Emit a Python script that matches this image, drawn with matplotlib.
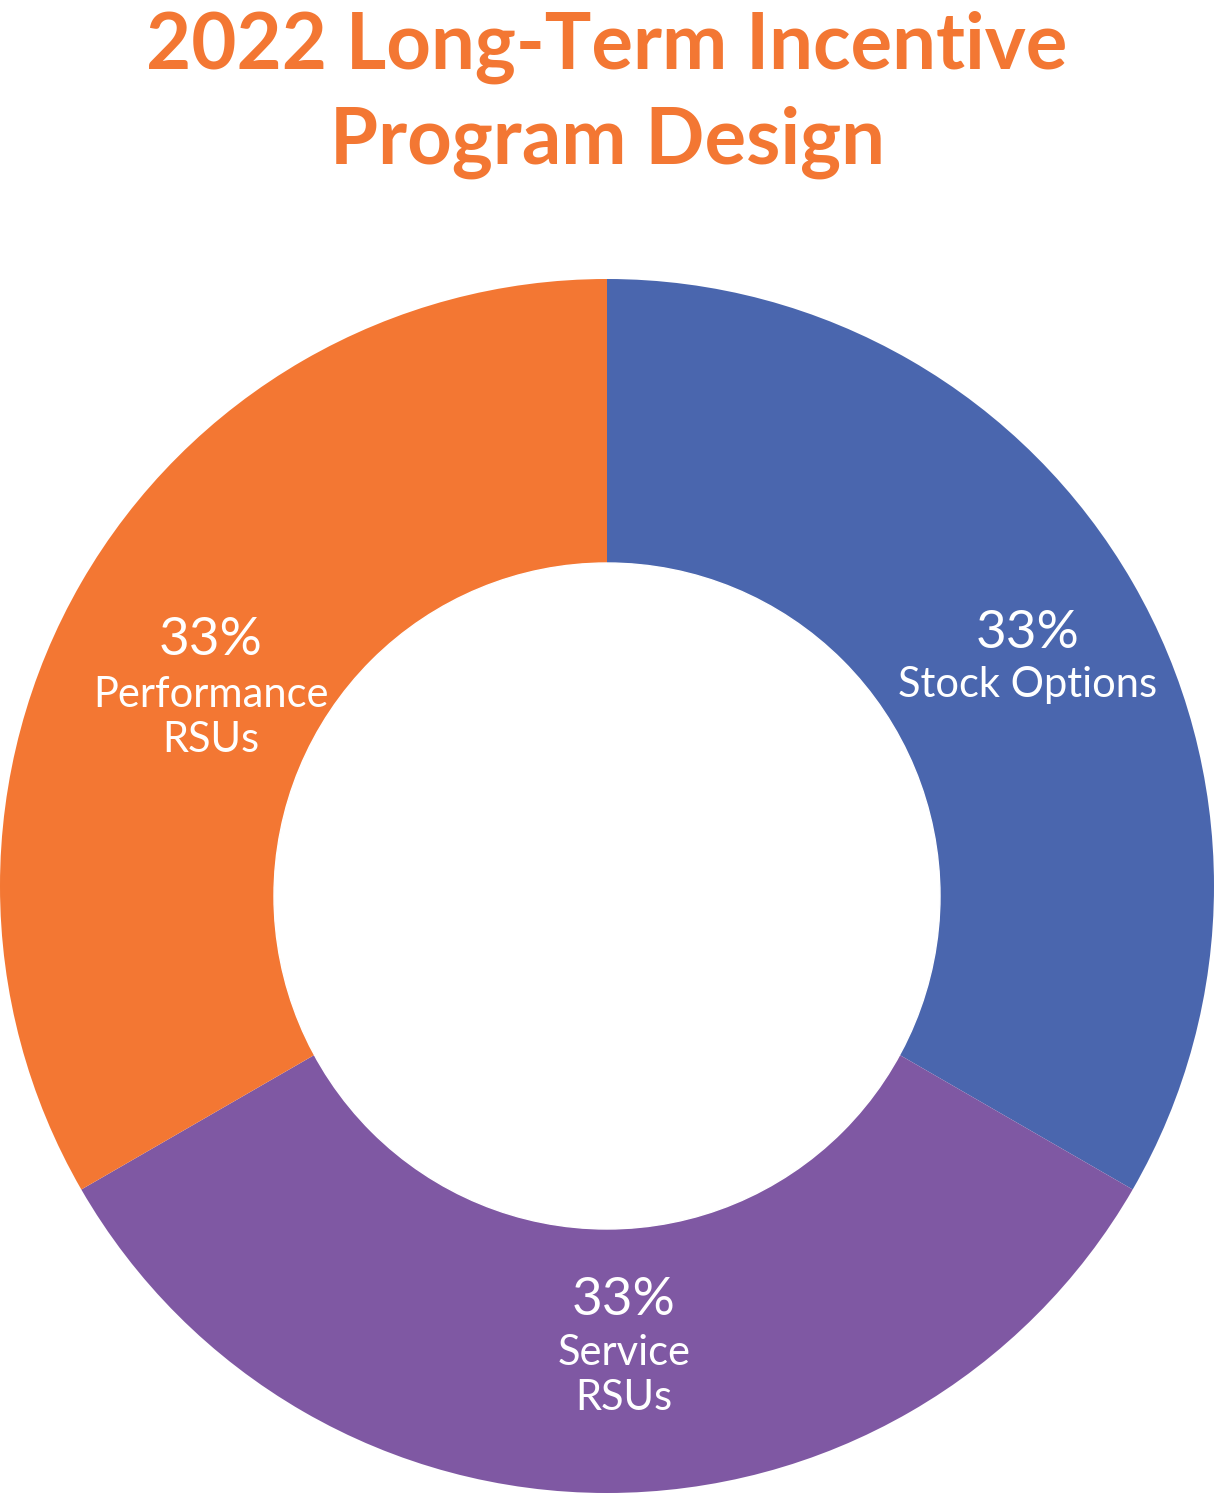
import matplotlib
matplotlib.use('Agg')
import matplotlib.pyplot as plt
from matplotlib.patches import Circle

# данні
categories = ['Stock Options', 'Service\nRSUs', 'Performance\nRSUs']
shares = [33, 33, 33]
colors = ['#4A66AE', '#7F58A3', '#F37733']
title_lines = ['2022 Long-Term Incentive', 'Program Design']

W, H = 1214, 1494
cx, cy, R = 607, 886, 607  # центр і радіус у пікселях


def to_data(px, py):
    return (px - cx) / R, (cy - py) / R


fig = plt.figure(figsize=(W / 100, H / 100), dpi=100)
ax = fig.add_axes([0, (H - cy - R) / H, 1, 2 * R / H])

ax.pie(shares, colors=colors, startangle=90, counterclock=False, radius=1,
       wedgeprops=dict(linewidth=0))
# дірка трохи нижче за центр, як на оригіналі
ax.add_patch(Circle(to_data(607, 896), 333 / R, color='white', zorder=5))
ax.set_xlim(-1, 1)
ax.set_ylim(-1, 1)
ax.set_aspect('equal')
ax.axis('off')

# позиції підписів (пікселі: x центру, baseline відсотка, baseline першого рядка)
label_pos = [(1028, 648, 697), (624, 1315, 1365), (211, 655, 707)]
for name, val, (px, py_pct, py_lab) in zip(categories, shares, label_pos):
    x, y = to_data(px, py_pct)
    ax.text(x, y, f'{val}%', color='white', fontsize=38, family='Lato',
            ha='center', va='baseline', zorder=6)
    for i, line in enumerate(name.split('\n')):
        x, y = to_data(px, py_lab + i * 45)
        ax.text(x, y, line, color='white', fontsize=30, family='Lato',
                ha='center', va='baseline', zorder=6)

for i, line in enumerate(title_lines):
    fig.text(0.5, 1 - (69 + i * 95) / H, line, color='#F37733', fontsize=56,
             family='Lato', fontweight='bold', ha='center', va='baseline')

fig.savefig('out.png', dpi=100, facecolor='white')
